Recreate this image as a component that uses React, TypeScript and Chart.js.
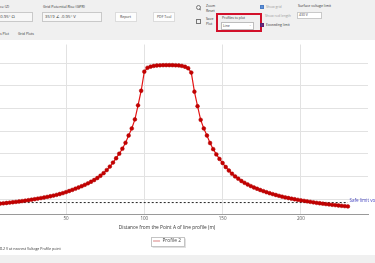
import React, { useEffect, useRef } from "react";
import { Chart, registerables } from "chart.js";

Chart.register(...registerables);

// ---- data ----
const distances = [0,2,4,6,8,10,12,14,16,18,20,22,24,26,28,30,32,34,36,38,40,42,44,46,48,50,52,54,56,58,60,62,64,66,68,70,72,74,76,78,80,82,84,86,88,90,92,94,96,98,100,102,104,106,108,110,112,114,116,118,120,122,124,126,128,130,132,134,136,138,140,142,144,146,148,150,152,154,156,158,160,162,164,166,168,170,172,174,176,178,180,182,184,186,188,190,192,194,196,198,200,202,204,206,208,210,212,214,216,218,220,222,224,226,228,230];
const profile2 = [383,389,395,401,407,414,421,429,437,445,454,463,473,483,494,505,517,529,541,555,569,584,600,618,638,660,684,709,735,762,790,820,853,888,926,970,1020,1077,1145,1222,1310,1405,1505,1615,1745,1905,2060,2260,2570,2890,3310,3395,3420,3436,3445,3450,3452,3453,
  3453,3452,3450,3446,3436,3418,3385,3290,2870,2550,2250,2060,1905,1740,1605,1490,1390,1300,1212,1135,1065,1005,955,905,865,828,793,762,734,707,682,658,636,616,597,578,560,544,530,516,503,491,480,468,457,446,435,424,415,406,397,389,381,374,366,359,352,345];
const safeLimit = 430;
const safeLineX = [0, 230];
const xTicks = [50, 100, 150, 200];
const yGrid = [500, 1000, 1500, 2000, 2500, 3000, 3500];
const seriesName = "Profile 2";
const xTitle = "Distance from the Point A of line profile (m)";
const safeLabel = "Safe limit voltage";

const FONT = '"Open Sans", "Noto Sans", sans-serif';

const safeLabelPlugin = {
  id: "safeLabel",
  afterDatasetsDraw(chart: any) {
    const { ctx, scales } = chart;
    const px = scales.x.getPixelForValue(safeLineX[1]);
    const py = scales.y.getPixelForValue(safeLimit);
    ctx.save();
    ctx.font = `4.6px ${FONT}`;
    ctx.fillStyle = "#4b4bc4";
    ctx.textBaseline = "middle";
    ctx.textAlign = "left";
    ctx.fillText(safeLabel, px + 1.5, py - 2);
    ctx.restore();
  },
};

const legendBoxPlugin = {
  id: "legendBox",
  afterDraw(chart: any) {
    const lg = chart.legend;
    if (!lg || !lg.legendHitBoxes || !lg.legendHitBoxes.length) return;
    const hb = lg.legendHitBoxes[0];
    const { ctx } = chart;
    ctx.save();
    ctx.strokeStyle = "#c4c4c4";
    ctx.lineWidth = 1;
    const x0 = Math.round(hb.left - 2.5) + 0.5;
    const y0 = Math.round(hb.top - 2) + 0.5;
    const w = Math.round(hb.width + 5);
    const h = Math.round(hb.height + 4);
    ctx.strokeRect(x0, y0, w, h);
    ctx.strokeStyle = "rgba(0,0,0,0.12)";
    ctx.beginPath();
    ctx.moveTo(x0 + 1, y0 + h + 1);
    ctx.lineTo(x0 + w + 1, y0 + h + 1);
    ctx.lineTo(x0 + w + 1, y0 + 1);
    ctx.stroke();
    ctx.restore();
  },
};

function ProfileChart() {
  const ref = useRef<HTMLCanvasElement | null>(null);
  useEffect(() => {
    if (!ref.current) return;
    const chart = new Chart(ref.current, {
      type: "line",
      data: {
        datasets: [
          {
            label: seriesName,
            data: distances.map((d, i) => ({ x: d, y: profile2[i] })),
            borderColor: "#e41414",
            borderWidth: 1.2,
            pointRadius: 1.9,
            pointBackgroundColor: "#c40000",
            pointBorderColor: "#b00000",
            pointBorderWidth: 0.5,
            tension: 0,
          },
          {
            label: "safe",
            data: safeLineX.map((d) => ({ x: d, y: safeLimit })),
            borderColor: "#222",
            borderWidth: 1,
            borderDash: [2, 2],
            pointRadius: 0,
          },
        ],
      },
      options: {
        animation: false,
        responsive: false,
        devicePixelRatio: 1,
        layout: { padding: { left: 6, right: 7, top: 0, bottom: 1.6 } },
        scales: {
          x: {
            type: "linear",
            min: -13.86,
            max: 242.85,
            afterBuildTicks: (s: any) => {
              s.ticks = xTicks.map((v) => ({ value: v }));
            },
            afterFit: (s: any) => {
              s.height = 17;
            },
            grid: { color: "#e2e2e2", lineWidth: 1, drawTicks: false },
            border: { display: true, color: "#9a9a9a", width: 1 },
            ticks: {
              padding: 2,
              color: "#555",
              font: { size: 4.5, family: FONT },
              maxRotation: 0,
            },
            title: {
              display: true,
              text: xTitle,
              color: "#333",
              font: { size: 4.8, family: FONT },
              padding: { top: 0, bottom: 0 },
            },
          },
          y: {
            type: "linear",
            min: 178.6,
            max: 3907,
            afterBuildTicks: (s: any) => {
              s.ticks = yGrid.map((v) => ({ value: v }));
            },
            afterFit: (s: any) => {
              s.width = 0;
            },
            grid: { color: "#e2e2e2", lineWidth: 1, drawTicks: false },
            border: { display: false },
            ticks: { display: false },
          },
        },
        plugins: {
          legend: {
            display: true,
            position: "bottom",
            fullSize: false,
            labels: {
              filter: (item: any) => item.text === seriesName,
              usePointStyle: true,
              pointStyle: "line",
              pointStyleWidth: 7,
              padding: 7.6,
              color: "#444",
              font: { size: 4.8, family: FONT },
            },
          },
          tooltip: { enabled: false },
        },
      },
      plugins: [safeLabelPlugin, legendBoxPlugin],
    } as any);
    return () => chart.destroy();
  }, []);
  return <canvas ref={ref} width={415} height={215} style={{ display: "block", width: 415, height: 215 }} />;
}

function T({ x, y, s = 3.7, c = "#333", children }: any) {
  return (
    <div
      style={{
        position: "absolute",
        left: x,
        top: y - s * 0.58,
        fontSize: s,
        lineHeight: 1,
        color: c,
        whiteSpace: "nowrap",
      }}
    >
      {children}
    </div>
  );
}

function Box({ x, y, w, h, bg = "#fff", border = "#cfcfcf", style = {} }: any) {
  return (
    <div
      style={{
        position: "absolute",
        left: x,
        top: y,
        width: w,
        height: h,
        background: bg,
        border: `1px solid ${border}`,
        boxSizing: "border-box",
        ...style,
      }}
    />
  );
}

export default function App() {
  return (
    <div
      style={{
        position: "fixed",
        left: 0,
        top: 0,
        width: 375,
        height: 263,
        overflow: "hidden",
        background: "#f0f0f0",
        fontFamily: FONT,
      }}
    >
      {/* toolbar */}
      <T x={0} y={7}>ce (Z)</T>
      <Box x={-2} y={12} w={35} h={10} bg="#f7f7f7" border="#c9c9c9" />
      <T x={-1} y={17} s={4.2}>-0.95° Ω</T>

      <T x={43} y={7}>Grid Potential Rise (GPR)</T>
      <Box x={42} y={12} w={60} h={10} bg="#f7f7f7" border="#c9c9c9" />
      <T x={45} y={17} s={4.2}>3519 ∠ -0.95° V</T>

      <Box x={115} y={12} w={22} h={10} bg="#fdfdfd" border="#dcdcdc" />
      <T x={120} y={17} s={3.5}>Report</T>
      <Box x={153} y={12} w={22} h={10} bg="#fdfdfd" border="#dcdcdc" />
      <T x={157} y={17} s={3.5}>PDF Tool</T>

      {/* zoom icon */}
      <div style={{ position: "absolute", left: 196, top: 5, width: 3, height: 3, border: "1px solid #777", borderRadius: "50%" }} />
      <div style={{ position: "absolute", left: 199, top: 9, width: 2, height: 1, background: "#777", transform: "rotate(45deg)" }} />
      <T x={206} y={6} s={3.4}>Zoom</T>
      <T x={206} y={11} s={3.4}>Reset</T>
      {/* save icon */}
      <div style={{ position: "absolute", left: 196, top: 19, width: 5, height: 5, border: "1px solid #777", boxSizing: "border-box" }} />
      <T x={206} y={19} s={3.4}>Save</T>
      <T x={206} y={24} s={3.4}>Plot</T>

      {/* profiles to plot with red frame */}
      <Box x={216} y={13} w={46} h={19} bg="transparent" border="#d2102a" style={{ borderWidth: 2 }} />
      <T x={222} y={18} s={3.4}>Profiles to plot</T>
      <Box x={221} y={22} w={33} h={7.5} bg="#fff" border="#bdbdbd" />
      <T x={223} y={25.8} s={3.4}>Line</T>
      <T x={249} y={25.3} s={3.4} c="#888">⌄</T>

      {/* checkboxes */}
      <Box x={260} y={5} w={4} h={4} bg="#5d8fd8" border="#4a7cc4" />
      <T x={266} y={7} s={3.4} c="#9a9a9a">Show grid</T>
      <T x={265} y={16} s={3.4} c="#9a9a9a">Show rod length</T>
      <Box x={260} y={22.5} w={4} h={4} bg="#6a2c7c" border="#5a2070" />
      <T x={266} y={24.5} s={3.4}>Exceeding limit</T>

      <T x={298} y={6} s={3.5}>Surface voltage limit</T>
      <Box x={297} y={11.5} w={25} h={7} bg="#fff" border="#c9c9c9" />
      <T x={299} y={15} s={3.4}>430 V</T>

      {/* tabs */}
      <T x={0} y={34} s={3.5}>s Plot</T>
      <T x={18} y={34} s={3.5}>Grid Plots</T>

      {/* white plot area */}
      <div style={{ position: "absolute", left: 0, top: 40, width: 375, height: 215, background: "#fff" }} />
      <div style={{ position: "absolute", left: -40, top: 40, width: 415, height: 215 }}>
        <ProfileChart />
      </div>

      <T x={0} y={249} s={3.6}>8.2 V at nearest Voltage Profile point</T>
    </div>
  );
}
